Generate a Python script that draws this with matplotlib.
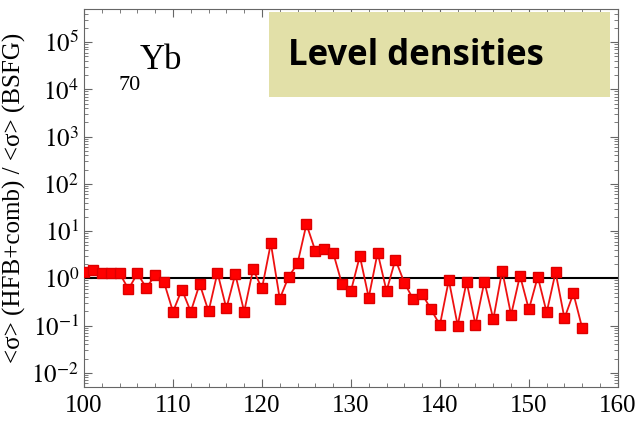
import numpy as np
import matplotlib.pyplot as plt
import matplotlib as mpl
from matplotlib.ticker import FixedLocator, LogLocator, NullFormatter, MultipleLocator

mpl.rcParams.update({
    "font.family": "Liberation Serif",
    "mathtext.fontset": "stix",
    "xtick.direction": "in",
    "ytick.direction": "in",
})

# neutron number and ratio of averaged cross sections
n_neutrons = np.arange(100, 157)
ratio = [1.38, 1.5, 1.3, 1.3, 1.28, 0.59, 1.27, 0.63, 1.17, 0.82,
         0.197, 0.58, 0.197, 0.76, 0.2, 1.32, 0.23, 1.23, 0.197, 1.55,
         0.61, 5.5, 0.37, 1.08, 2.07, 14.0, 3.8, 4.2, 3.5, 0.75,
         0.54, 2.96, 0.39, 3.5, 0.54, 2.5, 0.81, 0.36, 0.47, 0.22,
         0.103, 0.92, 0.1, 0.85, 0.103, 0.85, 0.136, 1.45, 0.168, 1.14,
         0.22, 1.08, 0.19, 1.34, 0.143, 0.48, 0.088]
decades = [-2, -1, 0, 1, 2, 3, 4, 5]

fig = plt.figure(figsize=(6.35, 4.22), dpi=100)
ax = fig.add_axes([0.1323, 0.0829, 0.8407, 0.8958])

ax.axhline(1.0, color="black", lw=1.5, zorder=2)
ax.plot(n_neutrons, ratio, color="#ee1111", lw=1.3, marker="s", ms=7.5,
        mfc="#ff0000", mec="#dd0000", zorder=3)

ax.set_yscale("log")
ax.set_xlim(100, 160)
ax.set_ylim(10**-2.3, 10**5.7)
ax.xaxis.set_major_locator(MultipleLocator(10))
ax.xaxis.set_minor_locator(MultipleLocator(2))
ax.yaxis.set_major_locator(FixedLocator([10.0**d for d in decades]))
ax.set_yticklabels([r"$10^{%d}$" % d for d in decades])
ax.yaxis.set_minor_locator(LogLocator(base=10, subs=np.arange(2, 10), numticks=20))
ax.yaxis.set_minor_formatter(NullFormatter())

ax.tick_params(which="both", top=True, right=True, colors="#666666",
               labelcolor="black", labelsize=18)
ax.tick_params(which="major", length=6, width=0.8)
ax.tick_params(which="minor", length=3, width=0.6)
ax.tick_params(axis="x", pad=6)
for s in ax.spines.values():
    s.set_color("#666666")
    s.set_linewidth(0.8)

ax.set_ylabel("<σ> (HFB+comb) / <σ> (BSFG)", fontsize=18, labelpad=4)

ax.text(0.065, 0.787, "70", transform=ax.transAxes, fontsize=16)
ax.text(0.105, 0.84, "Yb", transform=ax.transAxes, fontsize=25)

ax.add_patch(plt.Rectangle((0.347, 0.768), 0.638, 0.225, transform=ax.transAxes,
                           facecolor="#e2e0a8", edgecolor="none", zorder=4))
ax.text(0.382, 0.875, "Level densities", transform=ax.transAxes, fontsize=25,
        family="Open Sans", weight="bold", va="center", zorder=5)

fig.savefig("out.png", dpi=100)
